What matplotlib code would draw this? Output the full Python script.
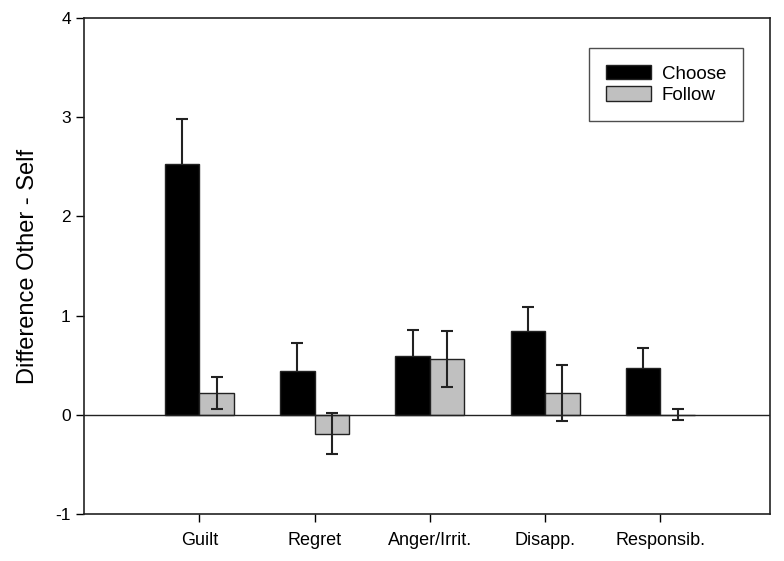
import numpy as np
import matplotlib.pyplot as plt
from matplotlib.patches import Patch

plt.rcParams['font.family'] = ['Liberation Sans', 'DejaVu Sans']
plt.rcParams['axes.unicode_minus'] = False

categories = ['Guilt', 'Regret', 'Anger/Irrit.', 'Disapp.', 'Responsib.']
choose = [2.53, 0.44, 0.59, 0.84, 0.47]
choose_err = [0.45, 0.28, 0.26, 0.25, 0.20]
follow = [0.22, -0.19, 0.56, 0.22, 0.0]
follow_err = [0.16, 0.21, 0.28, 0.28, 0.055]

x = np.arange(len(categories))
w = 0.30

fig = plt.figure(figsize=(7.84, 5.61), dpi=100)
ax = fig.add_axes([84/784, 47/561, 686/784, 496/561])

# error bars first, bars on top hide the lower half of the black ones
ekw = dict(fmt='none', ecolor='#222222', elinewidth=1.5, capsize=4.5, capthick=1.5)
ax.errorbar(x - w/2, choose, yerr=choose_err, zorder=1, **ekw)
ax.bar(x - w/2, choose, w, color='black', edgecolor='#222222', linewidth=1, zorder=2)
ax.bar(x + w/2, follow, w, color='#c0c0c0', edgecolor='#222222', linewidth=1, zorder=2)
ax.errorbar(x + w/2, follow, yerr=follow_err, zorder=3, **ekw)

ax.axhline(0, color='#222222', linewidth=1, zorder=2.5)

ax.set_xlim(-1.0, 4.95)
ax.set_ylim(-1, 4)
ax.set_yticks([-1, 0, 1, 2, 3, 4])
ax.set_xticks(x)
ax.set_xticklabels(categories, fontsize=13)
ax.tick_params(axis='y', labelsize=12.5, length=6, width=1, direction='out')
ax.tick_params(axis='x', length=6, width=1, direction='out', pad=7)
ax.set_ylabel('Difference Other - Self', fontsize=17, labelpad=12)
for s in ax.spines.values():
    s.set_linewidth(1.2)
    s.set_color('#222222')

handles = [Patch(facecolor='black', edgecolor='#222222', label='Choose'),
           Patch(facecolor='#c0c0c0', edgecolor='#222222', label='Follow')]
leg = ax.legend(handles=handles, loc='upper right', bbox_to_anchor=(743/784, 1 - 48/561),
                bbox_transform=fig.transFigure, fontsize=13.5, frameon=True, fancybox=False,
                handlelength=2.4, handleheight=0.8, borderpad=0.9, labelspacing=0.2,
                handletextpad=0.6, borderaxespad=0)
leg.get_frame().set_edgecolor('#222222')
leg.get_frame().set_linewidth(1)

fig.savefig('out.png', dpi=100)
